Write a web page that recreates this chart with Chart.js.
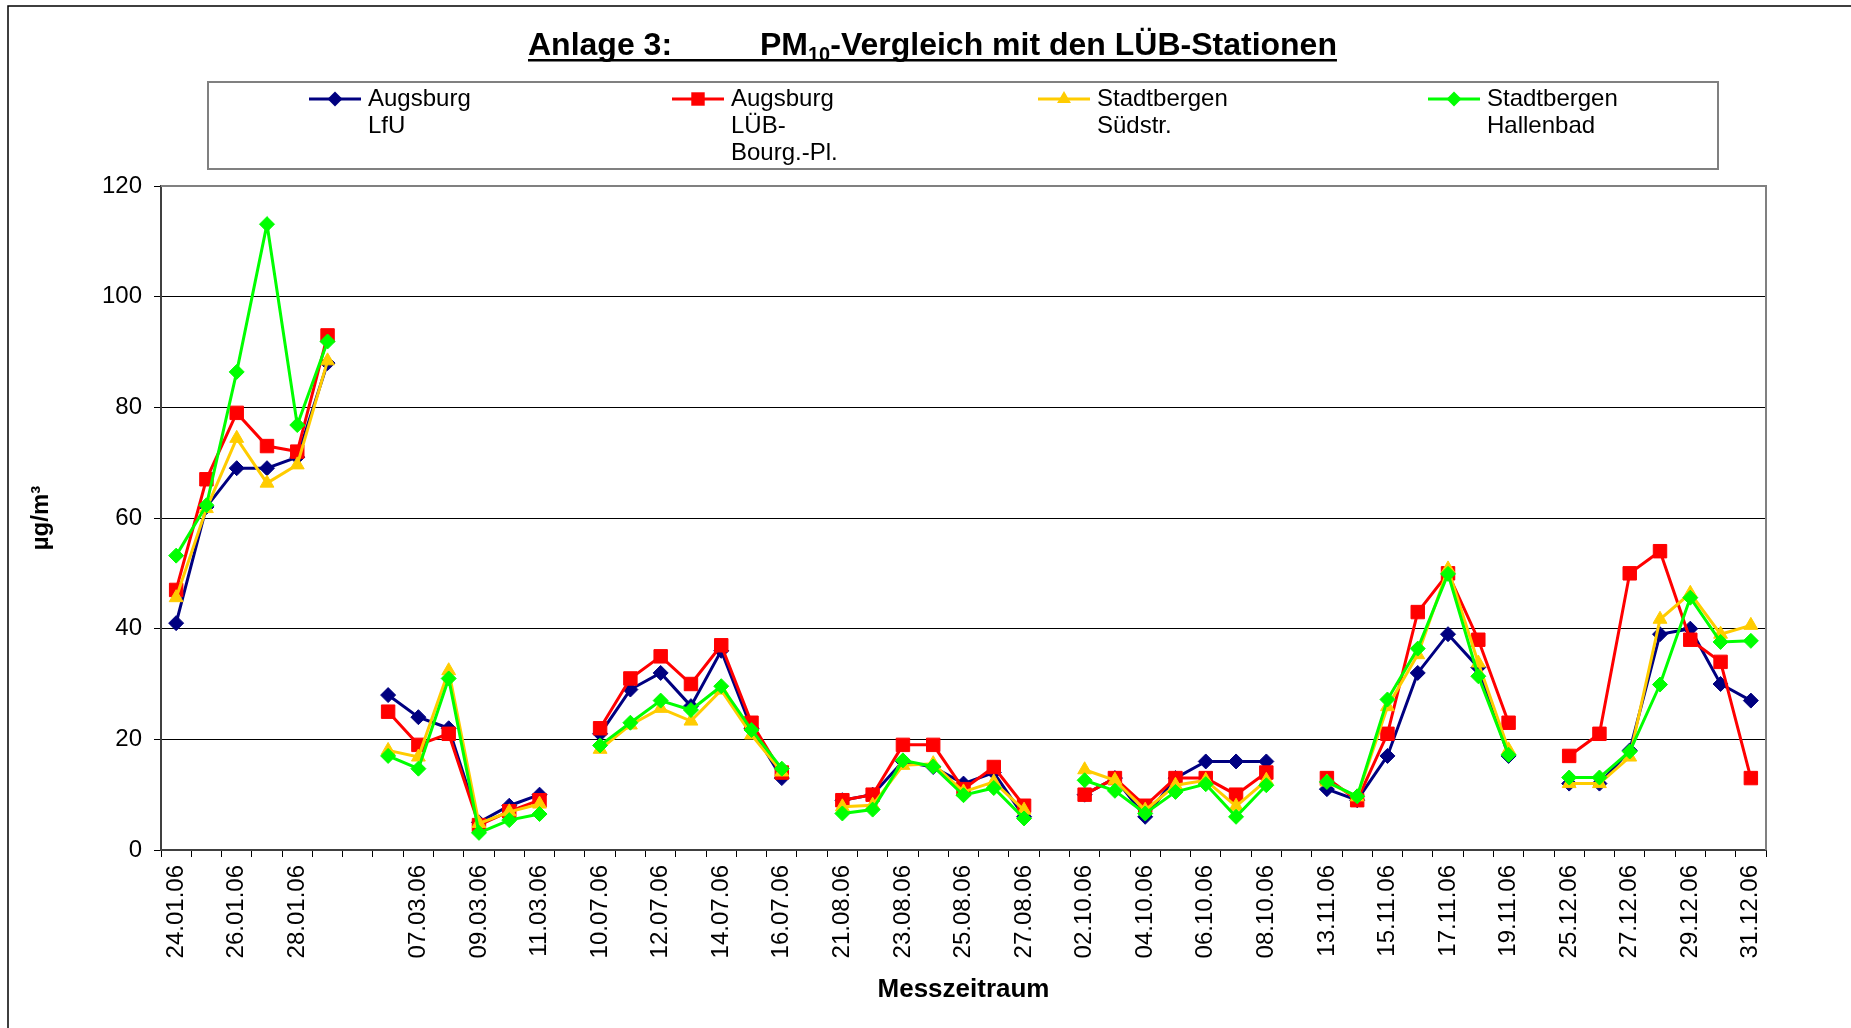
<!DOCTYPE html>
<html>
<head>
<meta charset="utf-8">
<script src="https://cdn.jsdelivr.net/npm/chart.js@4/dist/chart.umd.min.js"></script>
<style>
  html, body { margin: 0; padding: 0; background: #fff; }
  #wrap { position: relative; width: 1851px; height: 1028px; }
</style>
</head>
<body>
<div id="wrap"><canvas id="c" width="1851" height="1028"></canvas></div>
<script>
const categories = [
  '24.01.06','25.01.06','26.01.06','27.01.06','28.01.06','29.01.06','',
  '06.03.06','07.03.06','08.03.06','09.03.06','10.03.06','11.03.06','',
  '10.07.06','11.07.06','12.07.06','13.07.06','14.07.06','15.07.06','16.07.06','',
  '21.08.06','22.08.06','23.08.06','24.08.06','25.08.06','26.08.06','27.08.06','',
  '02.10.06','03.10.06','04.10.06','05.10.06','06.10.06','07.10.06','08.10.06','',
  '13.11.06','14.11.06','15.11.06','16.11.06','17.11.06','18.11.06','19.11.06','',
  '25.12.06','26.12.06','27.12.06','28.12.06','29.12.06','30.12.06','31.12.06'
];
const augsburgLfU = [41,62,69,69,71,88,null, 28,24,22,5,8,10,null, 21,29,32,26,36,22,13,null,
  9,10,16,15,12,14,6,null, 10,13,6,13,16,16,16,null, 11,9,17,32,39,33,17,null, 12,12,18,39,40,30,27];
const augsburgLUEB = [47,67,79,73,72,93,null, 25,19,21,4.5,7,9,null, 22,31,35,30,37,23,14,null,
  9,10,19,19,11,15,8,null, 10,13,8,13,13,10,14,null, 13,9,21,43,50,38,23,null, 17,21,50,54,38,34,13];
const stadtbergenSued = [45.6,61.7,74.4,66.3,69.6,88.4,null, 18,16.8,32.4,4.8,6.9,8.3,null,
  18.2,22.6,25.6,23.3,28.9,20.8,14.1,null, 7.8,8.1,15.3,15.6,10.5,12.3,7.2,null,
  14.5,12.6,7.2,11.7,12.6,7.9,12.6,null, 12.3,9.6,25.9,35.3,50.8,33.8,18.1,null, 12,12,16.8,41.7,46.4,39,40.6];
const stadtbergenHallenbad = [53.2,62.3,86.4,113.1,76.8,91.9,null, 17,14.7,31,3.1,5.4,6.5,null,
  18.9,23,27,25.3,29.6,21.7,14.7,null, 6.6,7.3,16.2,15.1,9.9,11.2,5.7,null,
  12.6,10.7,6.6,10.5,11.9,6,11.7,null, 12.3,9.7,27.2,36.4,49.9,31.4,17.2,null, 13.1,13.1,17.8,29.9,45.6,37.6,37.8];
const seriesNames = [['Augsburg','LfU'], ['Augsburg','LÜB-','Bourg.-Pl.'], ['Stadtbergen','Südstr.'], ['Stadtbergen','Hallenbad']];
const yTicks = [0,20,40,60,80,100,120];
const titleLeft = 'Anlage 3:';
const titleMain = ['PM', '10', '-Vergleich mit den LÜB-Stationen'];
const xTitle = 'Messzeitraum';
const yTitle = 'µg/m³';

const colors = ['#000080', '#FF0000', '#FFCC00', '#00FF00'];
const styles = ['rectRot', 'rect', 'triangle', 'rectRot'];
const radii = [7.5, 9.5, 8, 7.5];
const FONT = "'Liberation Sans', Arial, sans-serif";

function drawMarker(ctx, style, x, y, r, color) {
  ctx.save();
  ctx.fillStyle = color;
  ctx.beginPath();
  if (style === 'rectRot') {
    ctx.moveTo(x - r, y); ctx.lineTo(x, y - r); ctx.lineTo(x + r, y); ctx.lineTo(x, y + r);
  } else if (style === 'rect') {
    const s = r * Math.SQRT1_2;
    ctx.rect(x - s, y - s, 2 * s, 2 * s);
  } else {
    for (let i = 0; i < 3; i++) {
      const a = i * 2 * Math.PI / 3;
      const px = x + Math.sin(a) * r, py = y - Math.cos(a) * r;
      if (i === 0) ctx.moveTo(px, py); else ctx.lineTo(px, py);
    }
  }
  ctx.closePath();
  ctx.fill();
  ctx.restore();
}

const decor = {
  id: 'decor',
  afterDraw(chart) {
    const ctx = chart.ctx;
    const ca = chart.chartArea;
    ctx.save();
    // outer frame
    ctx.strokeStyle = '#000';
    ctx.lineWidth = 1.5;
    ctx.beginPath();
    ctx.moveTo(8, 1028); ctx.lineTo(8, 6); ctx.lineTo(1851, 6);
    ctx.stroke();
    // plot top/right border
    ctx.strokeStyle = '#808080';
    ctx.lineWidth = 2;
    ctx.beginPath();
    ctx.moveTo(ca.left, ca.top); ctx.lineTo(ca.right, ca.top); ctx.lineTo(ca.right, ca.bottom);
    ctx.stroke();
    // title
    ctx.fillStyle = '#000';
    ctx.textBaseline = 'alphabetic';
    ctx.textAlign = 'left';
    ctx.font = 'bold 32px ' + FONT;
    const x0 = 528, yb = 55;
    ctx.fillText(titleLeft, x0, yb);
    let x = 760;
    ctx.fillText(titleMain[0], x, yb); x += ctx.measureText(titleMain[0]).width;
    ctx.font = 'bold 20px ' + FONT;
    ctx.fillText(titleMain[1], x, yb + 6); x += ctx.measureText(titleMain[1]).width;
    ctx.font = 'bold 32px ' + FONT;
    ctx.fillText(titleMain[2], x, yb); x += ctx.measureText(titleMain[2]).width;
    ctx.fillRect(x0, yb + 4, x - x0, 2.5);
    // legend box
    ctx.strokeStyle = '#808080';
    ctx.lineWidth = 2;
    ctx.strokeRect(208, 82, 1510, 87);
    const lx = [309, 672, 1038, 1428];
    ctx.font = '24px ' + FONT;
    ctx.textBaseline = 'middle';
    for (let i = 0; i < 4; i++) {
      ctx.strokeStyle = colors[i];
      ctx.lineWidth = 3;
      ctx.beginPath(); ctx.moveTo(lx[i], 99); ctx.lineTo(lx[i] + 52, 99); ctx.stroke();
      drawMarker(ctx, styles[i], lx[i] + 26, 99, radii[i], colors[i]);
      ctx.fillStyle = '#000';
      seriesNames[i].forEach((t, k) => ctx.fillText(t, lx[i] + 59, 99 + k * 27));
    }
    ctx.restore();
  }
};

function ds(label, data, i, order) {
  return {
    label, data, order,
    borderColor: colors[i], backgroundColor: colors[i],
    pointBackgroundColor: colors[i], pointBorderColor: colors[i],
    pointStyle: styles[i], pointRadius: radii[i], pointBorderWidth: 1,
    borderWidth: 3, tension: 0, spanGaps: false, fill: false
  };
}

new Chart(document.getElementById('c'), {
  type: 'line',
  data: {
    labels: categories,
    datasets: [
      ds(seriesNames[0].join(' '), augsburgLfU, 0, 4),
      ds(seriesNames[1].join(' '), augsburgLUEB, 1, 3),
      ds(seriesNames[2].join(' '), stadtbergenSued, 2, 2),
      ds(seriesNames[3].join(' '), stadtbergenHallenbad, 3, 1)
    ]
  },
  options: {
    responsive: false,
    animation: false,
    devicePixelRatio: 1,
    layout: { padding: { left: 0, top: 186, right: 85, bottom: 0 } },
    plugins: { legend: { display: false }, title: { display: false }, tooltip: { enabled: false } },
    scales: {
      x: {
        type: 'category',
        offset: true,
        afterFit(s) { s.height = 178; },
        grid: { display: true, drawOnChartArea: false, offset: true, tickLength: 7, color: '#000', lineWidth: 1 },
        border: { display: true, color: '#404040', width: 2 },
        ticks: {
          autoSkip: false, maxRotation: 90, minRotation: 90, padding: 8,
          color: '#000', font: { family: FONT, size: 24 },
          callback(v, i) { return i % 2 === 0 ? categories[i] : ''; }
        },
        title: { display: true, text: xTitle, color: '#000', font: { family: FONT, size: 26, weight: 'bold' }, padding: { top: 0, bottom: 23 } }
      },
      y: {
        min: 0, max: 120,
        afterFit(s) { s.width = 161; },
        afterBuildTicks(s) { s.ticks = yTicks.map(v => ({ value: v })); },
        grid: { color: '#000', lineWidth: 1, tickLength: 7 },
        border: { display: true, color: '#404040', width: 2 },
        ticks: { padding: 12, color: '#000', font: { family: FONT, size: 24 } },
        title: { display: true, text: yTitle, color: '#000', font: { family: FONT, size: 24, weight: 'bold' }, padding: { top: 27, bottom: 0 } }
      }
    }
  },
  plugins: [decor]
});
</script>
</body>
</html>
